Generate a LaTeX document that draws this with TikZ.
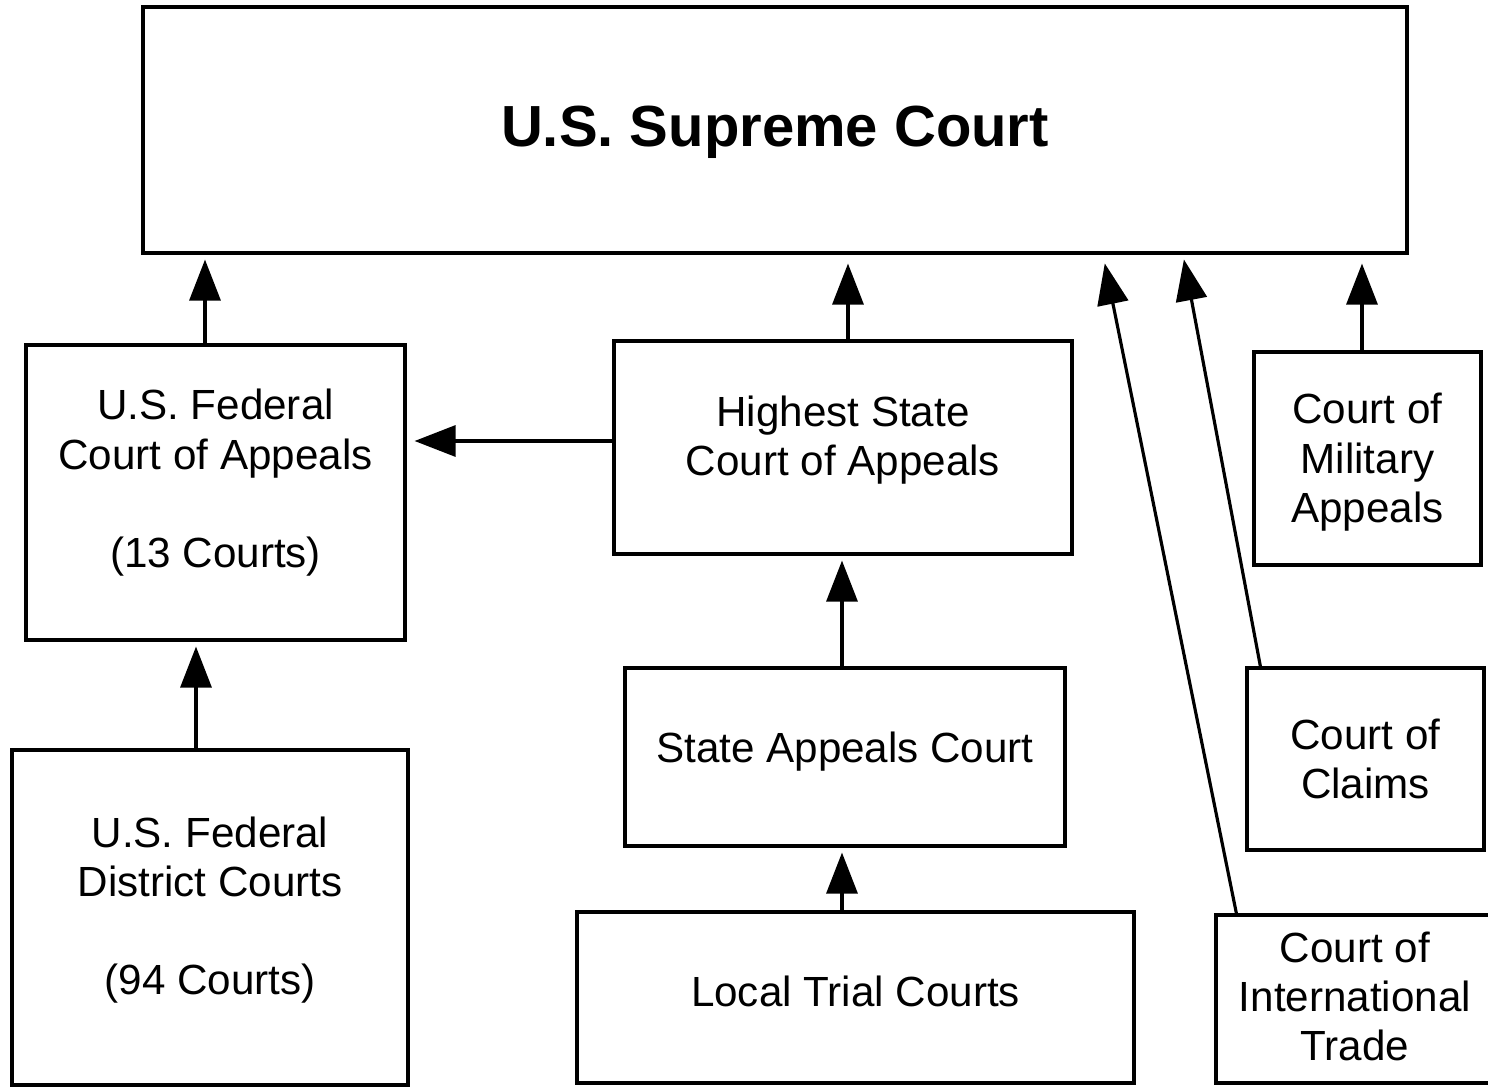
\documentclass[tikz,border=0pt]{standalone}
\usepackage{fontspec}
\setmainfont{Liberation Sans}
\usetikzlibrary{arrows.meta}

\begin{document}
\begin{tikzpicture}[
            court_box/.style={rectangle, draw=black, line width=0.9pt, align=center, inner sep=0pt,
                              font=\fontsize{12}{14}\selectfont},
            appeal_edge/.style={line width=0.9pt, -{Triangle[width=3.1mm, length=4.1mm]}, shorten >=0.5mm}
        ]

        % Page frame
        \path[use as bounding box, clip] (0,0) rectangle (14.88,10.87);

        % Top of the hierarchy
        \node[court_box, minimum width=12.64cm, minimum height=2.46cm, text depth=2pt,
              font=\fontsize{16.5}{19}\selectfont\bfseries] (supreme) at (7.75, 9.57) {U.S. Supreme Court};

        % Federal courts
        \node[court_box, minimum width=3.79cm, minimum height=2.95cm, text depth=8pt] (fedapp) at (2.155, 5.945)
            {U.S. Federal\\Court of Appeals\\[14pt](13 Courts)};
        \node[court_box, minimum width=3.96cm, minimum height=3.35cm, text depth=6.8pt] (district) at (2.10, 1.695)
            {U.S. Federal\\District Courts\\[14pt](94 Courts)};

        % State courts
        \node[court_box, minimum width=4.58cm, minimum height=2.13cm, text depth=6.5pt] (highest) at (8.43, 6.395)
            {Highest State\\Court of Appeals};
        \node[court_box, minimum width=4.40cm, minimum height=1.78cm, text depth=5.3pt] (stateapp) at (8.45, 3.30)
            {State Appeals Court};
        \node[court_box, minimum width=5.57cm, minimum height=1.71cm, text depth=3.4pt] (local) at (8.555, 0.895)
            {Local Trial Courts};

        % Special courts
        \node[court_box, minimum width=2.27cm, minimum height=2.13cm, text depth=0.4pt] (military) at (13.675, 6.285)
            {Court of\\Military\\Appeals};
        \node[court_box, minimum width=2.37cm, minimum height=1.82cm] (claims) at (13.655, 3.28)
            {Court of\\Claims};
        \node[court_box, minimum width=2.78cm, minimum height=1.68cm, text depth=1.5pt] (trade) at (13.55, 0.88)
            {Court of\\International\\Trade};

        % Appeals into the Supreme Court
        \draw[appeal_edge] ([xshift=-1.05mm]fedapp.north) -- ([xshift=-1.05mm]fedapp.north |- supreme.south);
        \draw[appeal_edge, shorten >=0.9mm] ([xshift=0.5mm]highest.north) -- ([xshift=0.5mm]highest.north |- supreme.south);
        \draw[appeal_edge, shorten >=0.9mm] ([xshift=-0.55mm]military.north) -- ([xshift=-0.55mm]military.north |- supreme.south);
        \draw[appeal_edge] ([xshift=1.5mm]claims.north west) -- ([xshift=4.08cm]supreme.south);
        \draw[appeal_edge, shorten >=0.9mm] ([xshift=2.2mm]trade.north west) -- ([xshift=3.28cm]supreme.south);

        % State to federal
        \draw[appeal_edge, shorten >=0.8mm] ([yshift=0.65mm]highest.west) -- ([yshift=0.65mm]highest.west -| fedapp.east);

        % Lower courts
        \draw[appeal_edge] ([xshift=-0.3mm]stateapp.north) -- ([xshift=-0.3mm]stateapp.north |- highest.south);
        \draw[appeal_edge] ([xshift=-1.35mm]local.north) -- ([xshift=-1.35mm]local.north |- stateapp.south);
        \draw[appeal_edge] ([xshift=-1.4mm]district.north) -- ([xshift=-1.4mm]district.north |- fedapp.south);

    \end{tikzpicture}
\end{document}
